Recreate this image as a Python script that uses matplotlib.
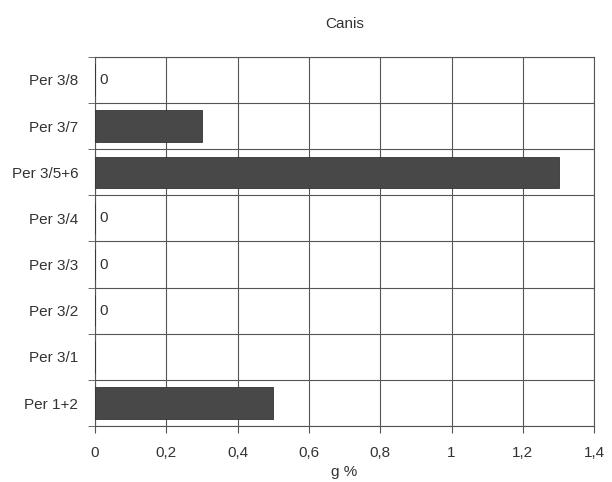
import numpy as np
import matplotlib
matplotlib.use('Agg')
import matplotlib.pyplot as plt
from matplotlib.ticker import FixedLocator, FuncFormatter

# categories from bottom to top
categories = ['Per 1+2', 'Per 3/1', 'Per 3/2', 'Per 3/3', 'Per 3/4', 'Per 3/5+6', 'Per 3/7', 'Per 3/8']
values = [0.5, np.nan, 0, 0, 0, 1.3, 0.3, 0]
xticks = [0, 0.2, 0.4, 0.6, 0.8, 1.0, 1.2, 1.4]

plt.rcParams['font.family'] = ['Liberation Sans', 'DejaVu Sans']
txt = '#333333'
fs = 11

fig = plt.figure(figsize=(6.12, 4.82), dpi=100)
ax = fig.add_axes([0.155, 0.116, 0.816, 0.766])

y = np.arange(len(categories))
vals = np.nan_to_num(values)
ax.barh(y, vals, height=0.68, color='#484848', edgecolor='#333333', linewidth=0.6, zorder=3)

for yi, v in zip(y, values):
    if v == 0:
        ax.text(0.012, yi, '0', va='center', ha='left', fontsize=fs, color=txt, zorder=4)

ax.set_xlim(0, 1.4)
ax.set_ylim(-0.5, len(categories) - 0.5)

ax.xaxis.set_major_locator(FixedLocator(xticks))
ax.xaxis.set_major_formatter(FuncFormatter(lambda v, p: ('%g' % round(v, 1)).replace('.', ',')))
ax.set_yticks(y)
ax.set_yticklabels(categories)
ax.set_yticks(np.arange(-0.5, len(categories)), minor=True)

ax.grid(True, axis='x', which='major', color='#555555', linewidth=0.8, zorder=0)
ax.grid(True, axis='y', which='minor', color='#555555', linewidth=0.8, zorder=0)

ax.tick_params(axis='y', which='major', length=0, pad=12, labelsize=fs, labelcolor=txt)
ax.tick_params(axis='y', which='minor', length=5, color='#555555', direction='out')
ax.tick_params(axis='x', which='major', length=5, color='#555555', pad=9, labelsize=fs, labelcolor=txt)

for s in ax.spines.values():
    s.set_color('#555555')
    s.set_linewidth(0.8)

ax.set_title('Canis', fontsize=fs, color=txt, pad=21)
ax.set_xlabel('g %', fontsize=fs, color=txt, labelpad=4)

fig.savefig('out.png', dpi=100)
